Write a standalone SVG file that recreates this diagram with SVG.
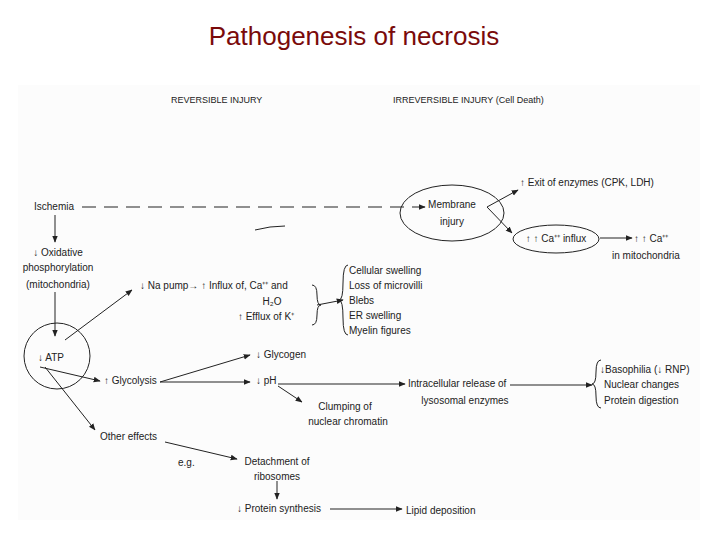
<svg xmlns="http://www.w3.org/2000/svg" width="720" height="540" viewBox="0 0 720 540">
<style>
text{font-family:"Liberation Sans",Arial,sans-serif;font-size:10px;fill:#222}
.c{text-anchor:middle}
.h{font-size:9px}
.l{stroke:#222;stroke-width:1;fill:none}
.e{stroke:#222;stroke-width:1;fill:none}
</style>
<defs><marker id="a" viewBox="0 0 10 10" refX="9" refY="5" markerWidth="7" markerHeight="7" orient="auto"><path d="M0,1 L10,5 L0,9 z" fill="#222"/></marker></defs>
<rect x="18" y="85" width="682" height="435" fill="#fcfcfc"/>
<text x="354" y="45" class="c" style="font-size:26px;fill:#7a0a0a">Pathogenesis of necrosis</text>
<text x="171" y="103" class="h">REVERSIBLE INJURY</text>
<text x="393" y="103" class="h">IRREVERSIBLE INJURY (Cell Death)</text>
<g id="connectors">
<path class="l" d="M82,207 H425" stroke-dasharray="14,8" marker-end="url(#a)"/>
<path class="l" d="M255,230 Q270,226 285,226"/>
<path class="l" d="M487,207 L518,190" marker-end="url(#a)"/>
<path class="l" d="M487,207 L512,233" marker-end="url(#a)"/>
<path class="l" d="M600,238 H632" stroke-width="1.5" marker-end="url(#a)"/>
<path class="l" d="M55,215 V242" marker-end="url(#a)"/>
<path class="l" d="M55,292 V336" marker-end="url(#a)"/>
<path class="l" d="M65,340 L132,290" marker-end="url(#a)"/>
<path class="l" d="M317,305 L343,300" marker-end="url(#a)"/>
<path class="l" d="M40,367 L100,381" marker-end="url(#a)"/>
<path class="l" d="M160,382 L250,355" marker-end="url(#a)"/>
<path class="l" d="M160,382 L250,382" marker-end="url(#a)"/>
<path class="l" d="M278,384 L405,384" marker-end="url(#a)"/>
<path class="l" d="M278,386 L302,402" marker-end="url(#a)"/>
<path class="l" d="M510,385 L592,385" stroke-width="1.3" marker-end="url(#a)"/>
<path class="l" d="M45,367 L95,430" marker-end="url(#a)"/>
<path class="l" d="M165,442 L237,459" marker-end="url(#a)"/>
<path class="l" d="M277,481 V499" stroke-width="1.3" marker-end="url(#a)"/>
<path class="l" d="M330,509 H402" marker-end="url(#a)"/>
<path class="l" d="M312,285 Q317,285 317,295 Q317,305 321,305 Q317,305 317,315 Q317,325 312,325"/>
<path class="l" d="M348,265 Q343,265 343,283 Q343,300 339,300 Q343,300 343,318 Q343,335 348,335"/>
<path class="l" d="M601,360 Q596,360 596,372 Q596,384 592,384 Q596,384 596,396 Q596,408 601,408"/>
</g>
<g id="ischemia"><text x="34" y="210">Ischemia</text></g>
<g id="membrane"><ellipse class="e" cx="452" cy="213" rx="52" ry="28"/><text x="452" y="208" class="c">Membrane</text><text x="452" y="225" class="c">injury</text></g>
<g id="exit"><text x="520" y="186">↑ Exit of enzymes (CPK, LDH)</text></g>
<g id="cainflux"><ellipse class="e" cx="556" cy="239" rx="43" ry="14"/><text x="556" y="242" class="c">↑ ↑ Ca⁺⁺ influx</text></g>
<g id="camito"><text x="634" y="242">↑ ↑ Ca⁺⁺</text><text x="612" y="259">in mitochondria</text></g>
<g id="oxphos"><text x="58" y="256" class="c">↓ Oxidative</text><text x="58" y="271" class="c">phosphorylation</text><text x="58" y="288" class="c">(mitochondria)</text></g>
<g id="atp"><circle class="e" cx="57" cy="356" r="33"/><text x="38" y="361">↓ ATP</text></g>
<g id="napump"><text x="140" y="289">↓ Na pump→ ↑ Influx of, Ca⁺⁺ and</text><text x="272" y="305" class="c">H₂O</text><text x="266" y="320" class="c">↑ Efflux of K⁺</text></g>
<g id="swelling"><text x="349" y="274">Cellular swelling</text><text x="349" y="289">Loss of microvilli</text><text x="349" y="304">Blebs</text><text x="349" y="319">ER swelling</text><text x="349" y="334">Myelin figures</text></g>
<g id="glycolysis"><text x="104" y="384">↑ Glycolysis</text></g>
<g id="glycogen"><text x="256" y="358">↓ Glycogen</text></g>
<g id="ph"><text x="256" y="384">↓ pH</text></g>
<g id="clumping"><text x="345" y="410" class="c">Clumping of</text><text x="348" y="425" class="c">nuclear chromatin</text></g>
<g id="lysosomal"><text x="408" y="387">Intracellular release of</text><text x="465" y="404" class="c">lysosomal enzymes</text></g>
<g id="nuclear"><text x="600" y="373">↓Basophilia (↓ RNP)</text><text x="604" y="388">Nuclear changes</text><text x="604" y="404">Protein digestion</text></g>
<g id="other"><text x="100" y="440">Other effects</text><text x="178" y="466">e.g.</text></g>
<g id="ribosomes"><text x="277" y="465" class="c">Detachment of</text><text x="277" y="480" class="c">ribosomes</text></g>
<g id="protein"><text x="237" y="512">↓ Protein synthesis</text></g>
<g id="lipid"><text x="406" y="514">Lipid deposition</text></g>
</svg>
